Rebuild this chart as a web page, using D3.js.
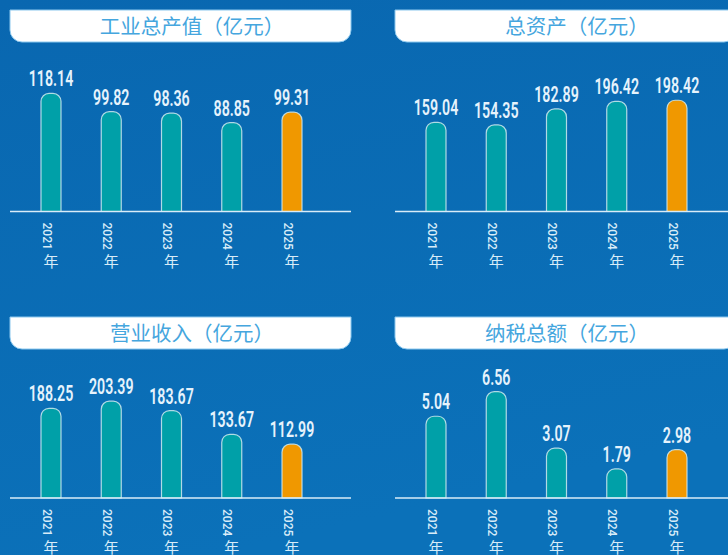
<!DOCTYPE html>
<html>
<head>
<meta charset="utf-8">
<script src="https://cdn.jsdelivr.net/npm/d3@7"></script>
<style>
  html, body { margin: 0; padding: 0; background: #0a6ab2; overflow: hidden; }
  svg { display: block; }
</style>
</head>
<body>
<svg id="chart"></svg>
<script>
// Four small bar panels, 2021-2025

var years = ["2021", "2022", "2023", "2024", "2025"];
var titles = ["工业总产值（亿元）", "总资产（亿元）", "营业收入（亿元）", "纳税总额（亿元）"];
var outputValues = [118.14, 99.82, 98.36, 88.85, 99.31];
var assetValues = [159.04, 154.35, 182.89, 196.42, 198.42];
var revenueValues = [188.25, 203.39, 183.67, 133.67, 112.99];
var taxValues = [5.04, 6.56, 3.07, 1.79, 2.98];
var seriesList = [outputValues, assetValues, revenueValues, taxValues];
var yMax = [120, 214, 252, 7.4];   // value mapped to plotH in each panel

var width = 728, height = 555
  , boxW = 341, boxH = 32
  , plotH = 120
  , barW = 20
  , teal = "#00a0a8", orange = "#f09800"
  ;

// panel layout: left edge, title top, baseline y, title centre x
var panels = [
  { x: 10,  top: 10,  base: 211.5, tx: 192 },
  { x: 395, top: 10,  base: 211.5, tx: 577 },
  { x: 10,  top: 317, base: 498,   tx: 192 },
  { x: 395, top: 317, base: 498,   tx: 567 }
];

var svg = d3.select("#chart").attr("width", width).attr("height", height);

var defs = svg.append("defs");
var grad = defs.append("linearGradient").attr("id", "bg")
  .attr("x1", 0).attr("y1", 0).attr("x2", 0.3).attr("y2", 1);
grad.append("stop").attr("offset", "0%").attr("stop-color", "#0967b0");
grad.append("stop").attr("offset", "100%").attr("stop-color", "#0b71b9");
svg.append("rect").attr("width", width).attr("height", height).attr("fill", "url(#bg)");

// rect with rounded top (bars) or rounded bottom (title box)
function topRounded (x, y, w, h, r) {
  r = Math.min(r, h, w / 2);
  return "M" + x + "," + (y + h) + "V" + (y + r) +
    "A" + r + "," + r + " 0 0 1 " + (x + r) + "," + y +
    "H" + (x + w - r) +
    "A" + r + "," + r + " 0 0 1 " + (x + w) + "," + (y + r) +
    "V" + (y + h) + "Z";
}
function bottomRounded (x, y, w, h, r) {
  return "M" + x + "," + y + "H" + (x + w) + "V" + (y + h - r) +
    "A" + r + "," + r + " 0 0 1 " + (x + w - r) + "," + (y + h) +
    "H" + (x + r) +
    "A" + r + "," + r + " 0 0 1 " + x + "," + (y + h - r) + "Z";
}

panels.forEach(function (p, i) {
  var values = seriesList[i];
  var g = svg.append("g");

  var x = d3.scalePoint().domain(years).range([p.x + 41, p.x + 282]);
  var y = d3.scaleLinear().domain([0, yMax[i]]).range([p.base, p.base - plotH]);

  // title box
  g.append("path")
   .attr("d", bottomRounded(p.x, p.top, boxW, boxH, 12))
   .attr("fill", "#ffffff")
   .attr("stroke", "#8cc8ee")
   .attr("stroke-width", 1);
  g.append("text")
   .attr("x", p.tx)
   .attr("y", p.top + 24)
   .attr("text-anchor", "middle")
   .attr("font-family", "'Noto Sans CJK SC', sans-serif")
   .attr("font-size", 20.5)
   .attr("fill", "#45a6de")
   .text(titles[i]);

  // bars
  g.selectAll(".bar").data(values).enter().append("path")
   .attr("class", "bar")
   .attr("d", function (d, j) {
     var cx = x(years[j]);
     return topRounded(cx - barW / 2, y(d), barW, p.base - y(d), 8);
   })
   .attr("fill", function (d, j) { return j === years.length - 1 ? orange : teal; })
   .attr("stroke", "#cfe9ee")
   .attr("stroke-opacity", 0.85)
   .attr("stroke-width", 1.2);

  // baseline
  g.append("line")
   .attr("x1", p.x).attr("x2", p.x + boxW)
   .attr("y1", p.base).attr("y2", p.base)
   .attr("stroke", "#d9ecf8").attr("stroke-width", 1.5);

  // value labels (condensed look via horizontal squeeze)
  g.selectAll(".val").data(values).enter().append("text")
   .attr("class", "val")
   .attr("transform", function (d, j) {
     return "translate(" + x(years[j]) + "," + (y(d) - 7) + ") scale(0.66,1)";
   })
   .attr("text-anchor", "middle")
   .attr("font-family", "Roboto, 'Liberation Sans', sans-serif")
   .attr("font-weight", 600)
   .attr("font-size", 21.5)
   .attr("fill", "#e6f3fc")
   .text(function (d) { return d.toFixed(2); });

  // year labels: digits rotated, 年 upright
  g.selectAll(".yr").data(years).enter().append("text")
   .attr("class", "yr")
   .attr("transform", function (d) {
     return "translate(" + (x(d) - 8.5) + "," + (p.base + 11) + ") rotate(90)";
   })
   .attr("font-family", "Roboto, 'Liberation Sans', sans-serif")
   .attr("font-weight", 500)
   .attr("font-size", 12)
   .attr("fill", "#d8ecf8")
   .text(function (d) { return d; });
  g.selectAll(".nian").data(years).enter().append("text")
   .attr("class", "nian")
   .attr("x", function (d) { return x(d); })
   .attr("y", p.base + 55)
   .attr("text-anchor", "middle")
   .attr("font-family", "'Noto Sans CJK SC', sans-serif")
   .attr("font-size", 15)
   .attr("fill", "#d8ecf8")
   .text("年");
});
</script>
</body>
</html>
